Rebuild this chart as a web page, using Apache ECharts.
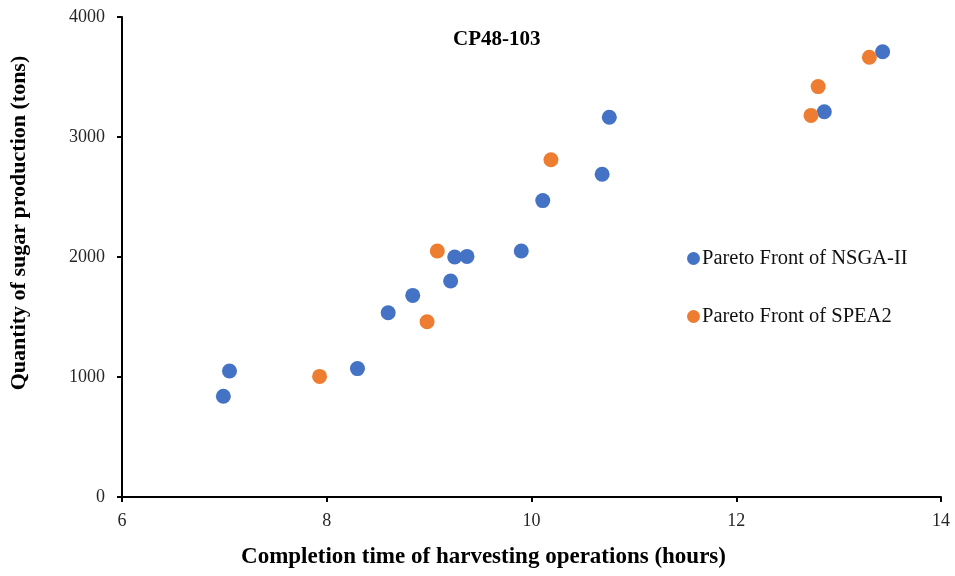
<html>
<head>
    <meta charset="UTF-8">
    <title>CP48-103</title>
    <script src="https://cdn.jsdelivr.net/npm/echarts@6/dist/echarts.min.js"></script>
    <style>
        body { margin: 0; padding: 0; background: #fff; }
        #echart { width: 955px; height: 576px; }
    </style>
</head>
<body>
<div id="echart"></div>
<script>
    // values
    const nsgaHours = [6.99, 7.05, 8.30, 8.60, 8.84, 9.21, 9.25, 9.37, 9.90, 10.11, 10.69, 10.76, 12.86, 13.43];
    const nsgaTons  = [840, 1050, 1070, 1535, 1680, 1800, 2000, 2005, 2050, 2470, 2690, 3165, 3210, 3710];
    const speaHours = [7.93, 8.98, 9.08, 10.19, 12.73, 12.80, 13.30];
    const speaTons  = [1005, 1460, 2050, 2810, 3180, 3420, 3665];
    const seriesNames = ['Pareto Front of NSGA-II', 'Pareto Front of SPEA2'];

    const serif = 'Liberation Serif';

    function pairs(xs, ys) {
        return xs.map((x, i) => [x, ys[i]]);
    }

    const ec = echarts.init(document.getElementById('echart'));
    ec.setOption({
        animation: false,
        color: ['#4472C4', '#ED7D31'],
        title: {
            text: 'CP48-103',
            left: 448,
            top: 24,
            textStyle: { fontFamily: serif, fontSize: 21, fontWeight: 'bold', color: '#000' }
        },
        legend: {
            orient: 'vertical',
            left: 682,
            top: 243,
            itemGap: 37,
            itemWidth: 13,
            itemHeight: 13,
            icon: 'circle',
            textStyle: { fontFamily: serif, fontSize: 20.5, color: '#111', padding: [0, 0, 0, -3] },
            data: seriesNames
        },
        grid: { left: 121, right: 14, top: 17, bottom: 79 },
        xAxis: {
            type: 'value',
            min: 6, max: 14, interval: 2,
            name: 'Completion time of harvesting operations (hours)',
            nameLocation: 'middle',
            nameGap: 49,
            nameTextStyle: { fontFamily: serif, fontSize: 23, fontWeight: 'bold', color: '#000', padding: [0, 96, 0, 0] },
            axisLine: { lineStyle: { color: '#000', width: 2 } },
            axisTick: { show: true, length: 5, lineStyle: { color: '#000', width: 2 } },
            axisLabel: { fontFamily: serif, fontSize: 18, color: '#262626', margin: 15 },
            splitLine: { show: false }
        },
        yAxis: {
            type: 'value',
            min: 0, max: 4000, interval: 1000,
            name: 'Quantity of sugar production (tons)',
            nameLocation: 'middle',
            nameGap: 92,
            nameTextStyle: { fontFamily: serif, fontSize: 22, fontWeight: 'bold', color: '#000', padding: [0, 0, 0, 68] },
            axisLine: { show: true, lineStyle: { color: '#000', width: 2 } },
            axisTick: { show: true, length: 5, lineStyle: { color: '#000', width: 2 } },
            axisLabel: { fontFamily: serif, fontSize: 18, color: '#262626', margin: 17, formatter: v => String(v) },
            splitLine: { show: false }
        },
        series: [
            {
                name: seriesNames[0],
                type: 'scatter',
                symbolSize: 15,
                itemStyle: { opacity: 1 },
                data: pairs(nsgaHours, nsgaTons)
            },
            {
                name: seriesNames[1],
                type: 'scatter',
                symbolSize: 15,
                itemStyle: { opacity: 1 },
                data: pairs(speaHours, speaTons)
            }
        ]
    });
</script>
</body>
</html>
